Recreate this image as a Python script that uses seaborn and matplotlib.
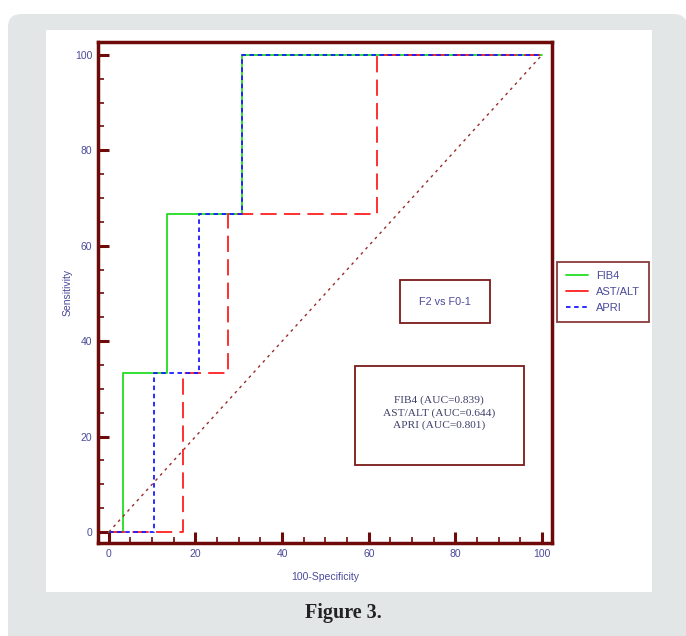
import matplotlib
matplotlib.use('Agg')
import matplotlib.pyplot as plt
import seaborn as sns
import pandas as pd
from matplotlib.patches import FancyBboxPatch, Rectangle
from matplotlib.lines import Line2D
from matplotlib.ticker import MultipleLocator

# ROC step points (100-Specificity, Sensitivity)
fib4_x = [0, 3.3, 3.3, 13.4, 13.4, 30.7, 30.7, 100]
fib4_y = [0, 0, 33.3, 33.3, 66.7, 66.7, 100, 100]
astalt_x = [0, 17.1, 17.1, 27.5, 27.5, 61.9, 61.9, 100]
astalt_y = [0, 0, 33.3, 33.3, 66.7, 66.7, 100, 100]
apri_x = [0, 10.4, 10.4, 20.8, 20.8, 30.7, 30.7, 100]
apri_y = [0, 0, 33.3, 33.3, 66.7, 66.7, 100, 100]
diag_x = [0, 100]
diag_y = [0, 100]

series_names = ['FIB4', 'AST/ALT', 'APRI']
auc_values = [0.839, 0.644, 0.801]

df = pd.concat([
    pd.DataFrame({'x': fib4_x, 'y': fib4_y, 'test': 'FIB4'}),
    pd.DataFrame({'x': astalt_x, 'y': astalt_y, 'test': 'AST/ALT'}),
    pd.DataFrame({'x': apri_x, 'y': apri_y, 'test': 'APRI'}),
])

sns.set_theme(style='white')
plt.rcParams['font.family'] = ['Liberation Sans', 'DejaVu Sans']

maroon = '#6e0a0a'
lab_col = '#4a4a9a'

fig = plt.figure(figsize=(6.86, 6.36), dpi=100)
# page background: gray rounded panel with white inner area
fig.patches.append(FancyBboxPatch((8 / 686, -0.05), 0.99, 1 - 14 / 636 + 0.05,
                                  boxstyle='round,pad=0,rounding_size=0.02',
                                  transform=fig.transFigure, facecolor='#e3e6e7',
                                  edgecolor='none', zorder=-3))
fig.patches.append(Rectangle((46 / 686, 1 - 592 / 636), (652 - 46) / 686, (592 - 30) / 636,
                             transform=fig.transFigure, facecolor='white',
                             edgecolor='none', zorder=-2))

ax = fig.add_axes([98 / 686, 1 - 543 / 636, (552 - 98) / 686, (543 - 42) / 636])
ax.set_facecolor('none')

colors = {'FIB4': '#22dd22', 'AST/ALT': '#ff2020', 'APRI': '#1a1aff'}
dashes = {'FIB4': '', 'AST/ALT': (9, 4), 'APRI': (2.5, 2)}
sns.lineplot(data=df, x='x', y='y', hue='test', style='test', palette=colors,
             dashes=dashes, sort=False, estimator=None, linewidth=1.3, ax=ax,
             legend=False)
sns.lineplot(x=diag_x, y=diag_y, color='#9a2a2a', linewidth=1.0, ax=ax)
ax.lines[-1].set_dashes((2, 3))

ax.set_xlim(-2.5, 102.3)
ax.set_ylim(-2.3, 102.7)
ax.xaxis.set_major_locator(MultipleLocator(20))
ax.xaxis.set_minor_locator(MultipleLocator(5))
ax.yaxis.set_major_locator(MultipleLocator(20))
ax.yaxis.set_minor_locator(MultipleLocator(5))
ax.tick_params(which='major', direction='in', length=8, width=2.2, color=maroon,
               labelsize=7.5, labelcolor=lab_col, pad=4, left=True, bottom=True)
ax.tick_params(which='minor', direction='in', length=4, width=1.2, color=maroon,
               left=True, bottom=True)
for s in ax.spines.values():
    s.set_color(maroon)
    s.set_linewidth(2.5)

ax.set_xlabel('100-Specificity', fontsize=7.5, color=lab_col, labelpad=10)
ax.set_ylabel('Sensitivity', fontsize=7.5, color=lab_col, labelpad=2)

# legend outside to the right
handles = [Line2D([0], [0], color=colors[n], lw=1.3) for n in series_names]
handles[2].set_dashes((2.5, 2))
leg = fig.legend(handles, series_names, loc='upper left',
                 bbox_to_anchor=(557 / 686, 1 - 262 / 636), fontsize=8,
                 frameon=True, fancybox=False, handlelength=2.0, handletextpad=0.7,
                 borderpad=0.8, labelspacing=0.55, labelcolor=lab_col,
                 borderaxespad=0)
leg.get_frame().set_edgecolor(maroon)
leg.get_frame().set_linewidth(1.3)

# annotation boxes
ax.add_patch(Rectangle((67.2, 43.8), 20.8, 9.0, fill=False, edgecolor='#7a1a1a', lw=1.3))
ax.text(77.6, 48.3, 'F2 vs F0-1', ha='center', va='center', fontsize=7.8, color=lab_col)
ax.add_patch(Rectangle((56.8, 14.0), 39.0, 20.8, fill=False, edgecolor='#7a1a1a', lw=1.3))
auc_text = '\n'.join(f'{n} (AUC={a:.3f})' for n, a in zip(series_names, auc_values))
ax.text(76.3, 25.0, auc_text, ha='center', va='center', fontsize=8.2,
        color='#3f3f6a', family=['Liberation Serif', 'DejaVu Serif'], linespacing=1.35)

fig.text(343 / 686, 1 - 613 / 636, 'Figure 3.', ha='center', va='center',
         fontsize=14.5, fontweight='bold', color='#222222',
         family=['Liberation Serif', 'DejaVu Serif'])

fig.savefig('out.png', dpi=100, facecolor='white')
